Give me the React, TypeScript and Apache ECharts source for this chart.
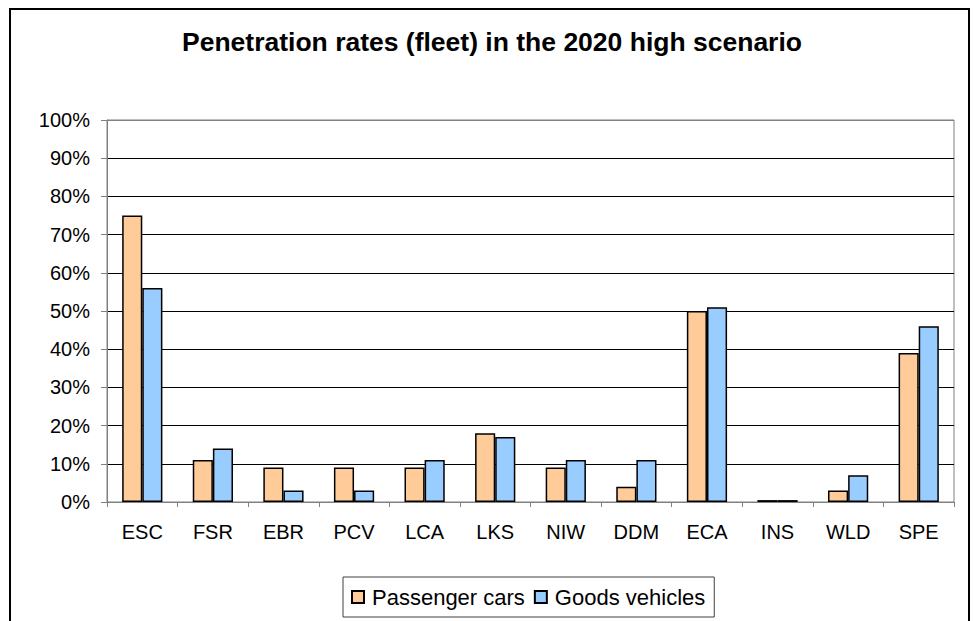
import React, { useEffect, useRef } from "react";
import * as echarts from "echarts";

const categories = ["ESC", "FSR", "EBR", "PCV", "LCA", "LKS", "NIW", "DDM", "ECA", "INS", "WLD", "SPE"];
const passengerCars = [75, 11, 9, 9, 9, 18, 9, 4, 50, 0.5, 3, 39];
const goodsVehicles = [56, 14, 3, 3, 11, 17, 11, 11, 51, 0.5, 7, 46];
const yTicks = [0, 10, 20, 30, 40, 50, 60, 70, 80, 90, 100];

const FONT = "Liberation Sans, Arial, sans-serif";

export default function App() {
  const ref = useRef<HTMLDivElement>(null);
  useEffect(() => {
    if (!ref.current) return;
    const chart = echarts.init(ref.current, null, { renderer: "svg" });
    const splitColors = yTicks.map((_, i) => (i === 0 || i === yTicks.length - 1 ? "#808080" : "#000"));
    chart.setOption({
      animation: false,
      backgroundColor: "#ffffff",
      title: {
        text: "Penetration rates (fleet) in the 2020 high scenario",
        left: 182,
        top: 28,
        padding: 0,
        textStyle: { fontFamily: FONT, fontSize: 26.5, fontWeight: "bold", color: "#000" },
      },
      graphic: [
        {
          type: "rect",
          shape: { x: 10, y: 9, width: 959, height: 640 },
          style: { fill: "none", stroke: "#000", lineWidth: 2 },
          silent: true,
        },
      ],
      grid: {
        left: 107,
        right: 19,
        top: 120,
        bottom: 119,
        show: true,
        borderColor: "#808080",
        borderWidth: 1,
        containLabel: false,
      },
      legend: {
        top: 577,
        left: 343,
        data: ["Passenger cars", "Goods vehicles"],
        icon: "rect",
        itemWidth: 12,
        itemHeight: 12,
        itemGap: 9,
        padding: [9, 9, 9, 8],
        borderColor: "#404040",
        borderWidth: 1,
        textStyle: { fontFamily: FONT, fontSize: 22, color: "#000", padding: [0, 0, 0, 3] },
      },
      xAxis: {
        type: "category",
        data: categories,
        axisLine: { lineStyle: { color: "#808080", width: 1 } },
        axisTick: { show: true, length: 5, alignWithLabel: false, lineStyle: { color: "#808080" } },
        axisLabel: { fontFamily: FONT, fontSize: 20, color: "#000", margin: 20 },
        splitLine: { show: false },
      },
      yAxis: {
        type: "value",
        min: yTicks[0],
        max: yTicks[yTicks.length - 1],
        interval: 10,
        axisLine: { show: true, lineStyle: { color: "#808080", width: 1 } },
        axisTick: { show: true, length: 6, inside: false, lineStyle: { color: "#808080" } },
        axisLabel: { fontFamily: FONT, fontSize: 20, color: "#000", margin: 17, formatter: "{value}%" },
        splitLine: { show: true, lineStyle: { color: splitColors, width: 1 } },
      },
      series: [
        {
          name: "Passenger cars",
          type: "bar",
          data: passengerCars,
          barGap: "0%",
          barCategoryGap: "43%",
          itemStyle: { color: "#FFCC99", borderColor: "#000", borderWidth: 1.5 },
        },
        {
          name: "Goods vehicles",
          type: "bar",
          data: goodsVehicles,
          barGap: "0%",
          barCategoryGap: "43%",
          itemStyle: { color: "#99CCFF", borderColor: "#000", borderWidth: 1.5 },
        },
      ],
    });
    return () => chart.dispose();
  }, []);
  return (
    <div
      ref={ref}
      style={{ position: "fixed", left: 0, top: 0, width: 973, height: 621, background: "#fff" }}
    />
  );
}
